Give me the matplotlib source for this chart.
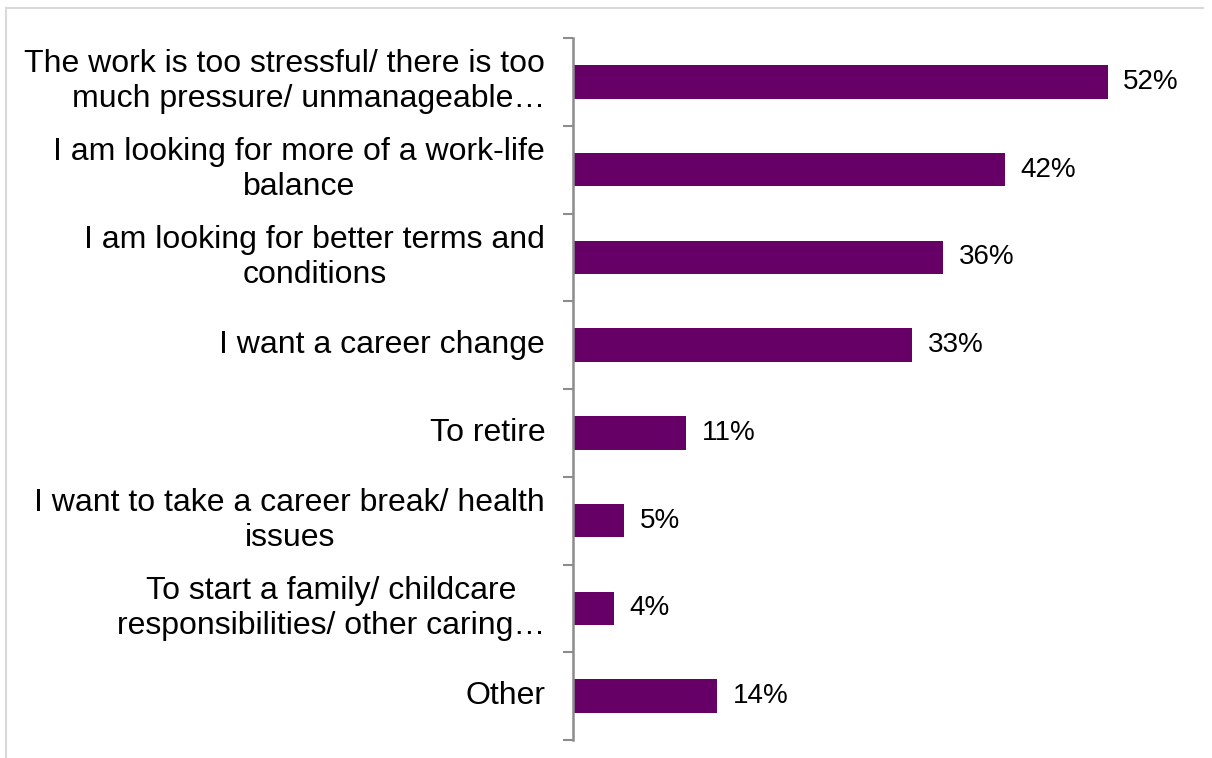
import numpy as np
import matplotlib
matplotlib.use('Agg')
import matplotlib.pyplot as plt
from matplotlib.lines import Line2D

plt.rcParams['font.family'] = ['Liberation Sans', 'DejaVu Sans']

categories = ['The work is too stressful/ there is too\nmuch pressure/ unmanageable\u2026',
              'I am looking for more of a work-life\nbalance',
              'I am looking for better terms and\nconditions',
              'I want a career change',
              'To retire',
              'I want to take a career break/ health\nissues',
              'To start a family/ childcare\nresponsibilities/ other caring\u2026',
              'Other']
values = [52, 42, 36, 33, 11, 5, 4, 14]
value_labels = ['52%', '42%', '36%', '33%', '11%', '5%', '4%', '14%']

W, H = 1212, 758
fig = plt.figure(figsize=(W / 100, H / 100), dpi=100)
ax = fig.add_axes([573 / W, 1 - 740 / H, (1190 - 573) / W, (740 - 38) / H])

ypos = np.arange(len(categories))
ax.barh(ypos, values, height=0.38, color='#660066', left=0)
for y, v, lab in zip(ypos, values, value_labels):
    ax.text(v + 1.5, y, lab, va='center', ha='left', fontsize=20, color='black')

ax.set_xlim(0, 60)
ax.set_ylim(len(categories) - 0.5, -0.5)

ax.set_yticks(ypos)
ax.set_yticklabels(categories, fontsize=23, linespacing=1.22)
for i, t in enumerate(ax.get_yticklabels()):
    t.set_va('center')
    # excel centres wrapped lines; the first (truncated) label reads right-aligned
    t.set_multialignment('right' if i == 0 else 'center')
ax.tick_params(axis='y', which='major', length=0, pad=20)
ax.set_yticks(np.arange(len(categories) + 1) - 0.5, minor=True)
ax.tick_params(axis='y', which='minor', length=7, width=1.5, color='#8c8c8c', direction='out')
ax.set_xticks([])
for s in ['top', 'right', 'bottom']:
    ax.spines[s].set_visible(False)
ax.spines['left'].set_color('#8c8c8c')
ax.spines['left'].set_linewidth(1.8)

# outer frame (top and left only visible)
fig.add_artist(Line2D([6 / W, 1203 / W], [1 - 8 / H, 1 - 8 / H], color='#d9d9d9', lw=1.5))
fig.add_artist(Line2D([6 / W, 6 / W], [1 - 8 / H, 0], color='#d9d9d9', lw=1.5))

fig.savefig('out.png', dpi=100)
